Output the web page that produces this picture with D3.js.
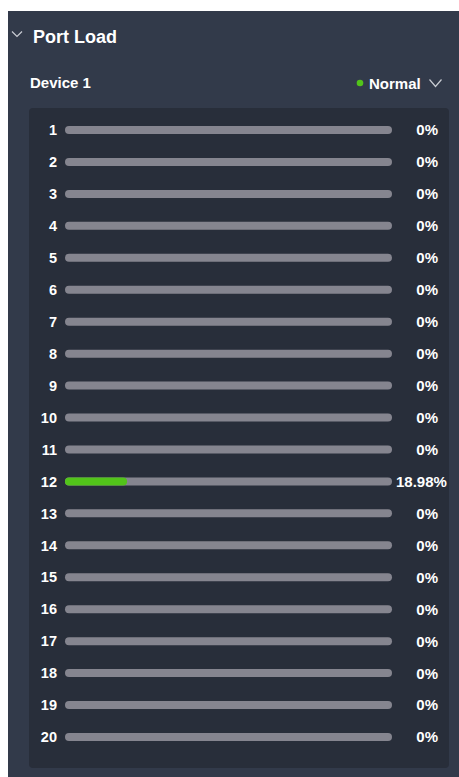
<!DOCTYPE html>
<html>
<head>
<meta charset="utf-8">
<script src="https://cdn.jsdelivr.net/npm/d3@7"></script>
<style>
  html, body { margin: 0; padding: 0; background: #ffffff; }
  svg { display: block; }
  text { font-family: "Liberation Sans", Arial, sans-serif; font-weight: bold; }
</style>
</head>
<body>
<svg id="chart" width="459" height="777"></svg>
<script>
// Port load per port, in percent
const ports = ["1","2","3","4","5","6","7","8","9","10","11","12","13","14","15","16","17","18","19","20"];
const loads = [0,0,0,0,0,0,0,0,0,0,0,18.98,0,0,0,0,0,0,0,0];
const deviceName = "Device 1";
const statusText = "Normal";
const titleText = "Port Load";

const svg = d3.select("#chart");

// outer card
svg.append("rect").attr("x", 8).attr("y", 11).attr("width", 451).attr("height", 766)
  .attr("fill", "#323a4a");

// header chevron + title
svg.append("path").attr("d", "M12,31.5 L17,36.5 L22,31.5")
  .attr("fill", "none").attr("stroke", "#c9ccd3").attr("stroke-width", 1.2);
svg.append("text").attr("x", 33).attr("y", 43).attr("fill", "#ffffff")
  .attr("font-size", 18).text(titleText);

// device line
svg.append("text").attr("x", 30).attr("y", 88).attr("fill", "#ffffff")
  .attr("font-size", 15).text(deviceName);
svg.append("circle").attr("cx", 360).attr("cy", 83).attr("r", 3.3).attr("fill", "#52c41a");
svg.append("text").attr("x", 369).attr("y", 88.5).attr("fill", "#ffffff")
  .attr("font-size", 15).text(statusText);
svg.append("path").attr("d", "M429.5,79.5 L435.5,86.5 L441.5,79.5")
  .attr("fill", "none").attr("stroke", "#c9ccd3").attr("stroke-width", 1.2);

// inner panel
svg.append("rect").attr("x", 29).attr("y", 108).attr("width", 420).attr("height", 660)
  .attr("rx", 4).attr("fill", "#282e3a");

const y = d3.scalePoint().domain(ports).range([130, 737]);
const x = d3.scaleLinear().domain([0, 100]).range([65, 392]);
const barH = 8;

const rows = svg.append("g").selectAll("g").data(ports.map((p, i) => ({ p, v: loads[i] })))
  .join("g").attr("transform", d => `translate(0,${y(d.p)})`);

rows.append("text").attr("x", 57).attr("dy", "0.36em").attr("text-anchor", "end")
  .attr("fill", "#ffffff").attr("font-size", 14.5).text(d => d.p);

rows.append("rect").attr("x", x(0)).attr("y", -barH / 2)
  .attr("width", x(100) - x(0)).attr("height", barH).attr("rx", barH / 2)
  .attr("fill", "#85858f");

rows.filter(d => d.v > 0).append("rect").attr("x", x(0)).attr("y", -barH / 2)
  .attr("width", d => x(d.v) - x(0)).attr("height", barH).attr("rx", barH / 2)
  .attr("fill", "#52c41a");

// value labels: right-aligned in a fixed box, overflowing to the right when wider
const boxL = 396, boxR = 438;
rows.append("text").attr("dy", "0.36em").attr("fill", "#ffffff").attr("font-size", 15)
  .text(d => (d.v === 0 ? "0" : d3.format(".2f")(d.v)) + "%")
  .each(function () {
    const t = d3.select(this);
    const w = this.getComputedTextLength();
    if (w > boxR - boxL) t.attr("x", boxL).attr("text-anchor", "start");
    else t.attr("x", boxR).attr("text-anchor", "end");
  });
</script>
</body>
</html>
